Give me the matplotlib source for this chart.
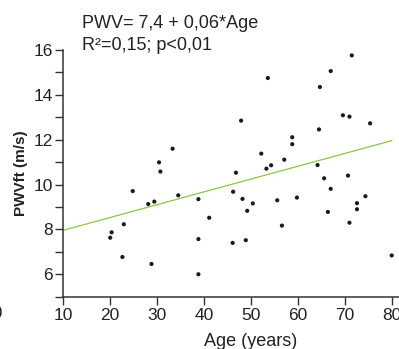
import matplotlib
matplotlib.use("Agg")
import matplotlib.pyplot as plt
import numpy as np

plt.rcParams['font.family'] = ['Liberation Sans', 'DejaVu Sans']

# Data
age = [20.0, 20.3, 22.9, 22.6, 24.8, 28.1, 29.4, 28.8, 30.4, 30.7,
       33.3, 34.5, 38.8, 38.8, 38.8, 41.1, 46.1, 48.9, 46.8, 46.2,
       48.2, 50.4, 49.2, 52.2, 53.3, 54.3, 57.1, 55.6, 56.6, 53.6,
       47.9, 58.8, 58.8, 59.8, 64.2, 64.5, 64.7, 67.0, 71.5, 69.6,
       71.0, 75.4, 70.7, 65.6, 67.0, 74.4, 72.6, 72.6, 66.4, 71.0,
       80.0]
pwv = [7.63, 7.87, 8.23, 6.77, 9.71, 9.13, 9.24, 6.46, 10.99, 10.58,
       11.60, 9.52, 9.35, 7.57, 6.00, 8.52, 7.40, 7.52, 10.53, 9.68,
       9.36, 9.16, 8.83, 11.38, 10.71, 10.86, 11.11, 9.30, 8.17, 14.75,
       12.85, 12.11, 11.80, 9.42, 10.87, 12.46, 14.35, 15.06, 15.76, 13.09,
       13.03, 12.73, 10.40, 10.28, 9.81, 9.48, 9.17, 8.90, 8.78, 8.30,
       6.84]

fit_intercept = 7.39
fit_slope = 0.0571
fit_range = [10, 80]

x_ticks = [10, 20, 30, 40, 50, 60, 70, 80, 90]
y_ticks = [6, 8, 10, 12, 14, 16]
y_minor = [5, 7, 9, 11, 13, 15]

W, H = 399, 349
fig = plt.figure(figsize=(W / 100, H / 100), dpi=100)
ax = fig.add_axes([63.3 / W, 52.3 / H, 375.3 / W, 246.7 / H])

ax.scatter(age, pwv, s=9, color='#1a1a1a', edgecolors='none', zorder=3)
fx = np.array(fit_range, dtype=float)
ax.plot(fx, fit_intercept + fit_slope * fx, color='#8cc840', lw=0.9, zorder=2)

ax.set_xlim(10, 90)
ax.set_ylim(5, 16)
ax.set_xticks(x_ticks)
ax.set_yticks(y_ticks)
ax.set_yticks(y_minor, minor=True)

for s in ['top', 'right']:
    ax.spines[s].set_visible(False)
for s in ['left', 'bottom']:
    ax.spines[s].set_color('#333333')
    ax.spines[s].set_linewidth(1.1)

ax.tick_params(axis='both', which='both', direction='out', length=6,
               width=1.0, color='#333333', labelsize=12.5, labelcolor='#222222')
ax.tick_params(axis='y', pad=1.5)
ax.tick_params(axis='x', pad=2)

ax.set_xlabel('Age (years)', fontsize=13, color='#222222', va='top')
ax.xaxis.set_label_coords(0.5, -0.147)
ax.set_ylabel('PWVft (m/s)', fontsize=11, fontweight='bold', color='#222222', va='center')
ax.yaxis.set_label_coords(-0.1127, 0.5)

ax.text(14, 16.98, 'PWV= 7,4 + 0,06*Age', fontsize=13, color='#222222',
        va='baseline', ha='left', clip_on=False)
ax.text(14, 16.0, 'R²=0,15; p<0,01', fontsize=13, color='#222222',
        va='baseline', ha='left', clip_on=False)

# partial tick label from neighbouring panel, cut off at the left edge
fig.text(2.5 / W, 1 - 313 / H, '90', fontsize=12.5, color='#222222',
         ha='right', va='center')

fig.savefig('out.png', dpi=100)
